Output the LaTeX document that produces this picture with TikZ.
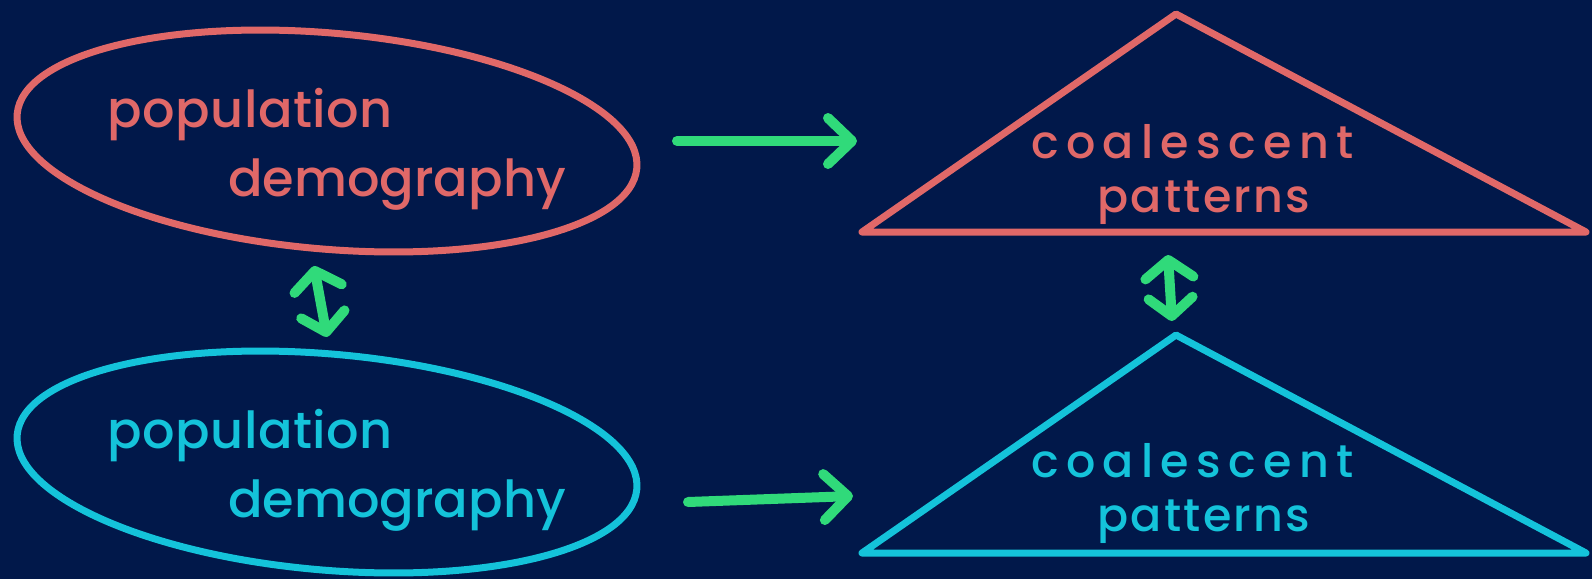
\documentclass[tikz,border=0pt]{standalone}
\usepackage{fontspec}
\setmainfont{Poppins}[UprightFont=*-Medium]
\usetikzlibrary{shapes.geometric,arrows.meta}
\definecolor{navy}{HTML}{01184A}
\definecolor{salmon}{HTML}{E06868}
\definecolor{aqua}{HTML}{14C3DA}
\definecolor{mint}{HTML}{30DA7A}
\tikzset{
  blob/.style={ellipse, draw, line width=7pt, minimum width=622pt, minimum height=216pt, rotate=-5, inner sep=0pt},
  tri/.style={line width=7pt, line join=round, line cap=round},
  label/.style={anchor=base west, inner sep=0pt, font=\fontsize{51}{51}\selectfont},
  treelabel/.style={anchor=base west, inner sep=0pt, font=\fontsize{46}{46}\selectfont},
  flow/.style={mint, line width=10pt, line cap=round,
    -{Straight Barb[length=24pt, width=46pt, round]}},
  swap/.style={mint, line width=10pt, line cap=round,
    {Straight Barb[length=18pt, width=48pt, round]}-{Straight Barb[length=18pt, width=44pt, round]}},
}
\begin{document}
\begin{tikzpicture}[x=1pt, y=-1pt]
  \fill[navy] (0,0) rectangle (1592,579);
  \useasboundingbox (0,0) rectangle (1592,579);

  % population demography, two versions
  \node[blob, salmon] (popA) at (327,141) {};
  \node[blob, aqua] (popB) at (327,462) {};
  \node[label, salmon] (popAt) at (107,127) {\addfontfeature{LetterSpace=1}population};
  \node[label, salmon] (popAd) at (228,196) {demography};
  \node[label, aqua] (popBt) at (107,448) {\addfontfeature{LetterSpace=1}population};
  \node[label, aqua] (popBd) at (228,517) {demography};

  % coalescent trees as triangles
  \coordinate (triA1) at (1176,14);
  \coordinate (triA2) at (1586,232);
  \coordinate (triA3) at (862,232);
  \coordinate (triB1) at (1176,335);
  \coordinate (triB2) at (1586,553);
  \coordinate (triB3) at (862,553);
  \draw[tri, salmon] (triA1) -- (triA2) -- (triA3) -- cycle;
  \draw[tri, aqua] (triB1) -- (triB2) -- (triB3) -- cycle;
  \node[treelabel, salmon] (coalA) at (1031,158) {\addfontfeature{LetterSpace=16}coalescent};
  \node[treelabel, salmon] (patA) at (1097,212) {\addfontfeature{LetterSpace=5}patterns};
  \node[treelabel, aqua] (coalB) at (1031,477) {\addfontfeature{LetterSpace=16}coalescent};
  \node[treelabel, aqua] (patB) at (1097,531) {\addfontfeature{LetterSpace=5}patterns};

  % connectors
  \coordinate (fA0) at (677,141);
  \coordinate (fA1) at (857,141);
  \coordinate (fB0) at (688,502);
  \coordinate (fB1) at (853,496);
  \coordinate (sA0) at (314,266);
  \coordinate (sA1) at (327,337);
  \coordinate (sB0) at (1168,255);
  \coordinate (sB1) at (1172,321);
  \draw[flow] (fA0) -- (fA1);
  \draw[flow] (fB0) -- (fB1);
  \draw[swap] (sA0) -- (sA1);
  \draw[swap] (sB0) -- (sB1);
\end{tikzpicture}
\end{document}
